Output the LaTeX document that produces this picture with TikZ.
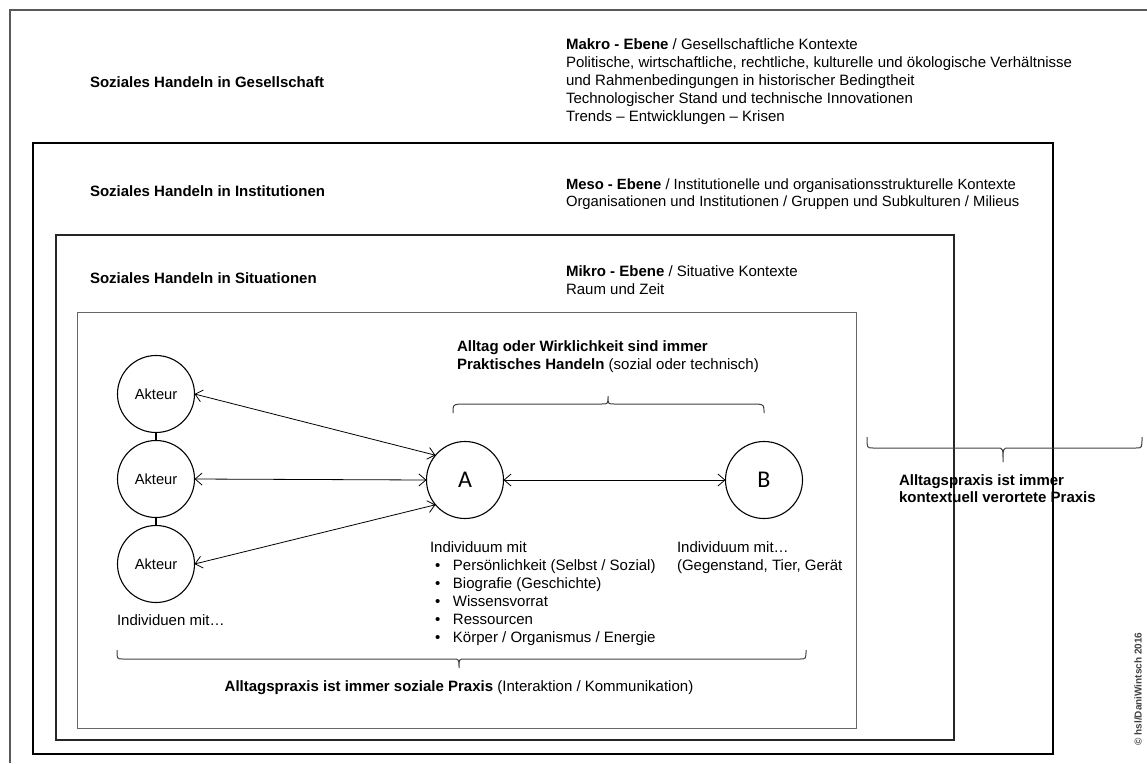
\documentclass[tikz,border=0pt]{standalone}
\usepackage{fontspec}
\setmainfont{Liberation Sans}
\newfontfamily\letterfont{Carlito}
\usetikzlibrary{arrows.meta}
\begin{document}
\begin{tikzpicture}[x=1pt,y=-1pt,
  every node/.style={inner sep=0pt, outer sep=0pt},
  lbl/.style={font=\fontsize{15}{18}\selectfont\bfseries, anchor=west},
  txt/.style={font=\fontsize{15}{18}\selectfont, align=left, anchor=north west},
  actor/.style={circle, draw, line width=1.1pt, minimum size=77pt, font=\fontsize{14.7}{18}\selectfont},
  person/.style={circle, draw, line width=1.1pt, minimum size=77pt, font=\letterfont\fontsize{24}{28}\selectfont},
  link/.style={line width=0.8pt, {Straight Barb[length=7pt,width=12pt]}-{Straight Barb[length=7pt,width=12pt]}},
  bracepath/.style={line width=1pt, black!75},
]
\useasboundingbox (0,0) rectangle (1147,763);
% frames
\draw[line width=1.3pt, black!65] (10,763) -- (10,10) -- (1147,10);
\draw[line width=1.8pt] (33,143) rectangle (1053,754);
\draw[line width=1.4pt, black!85] (56,235) rectangle (954,740);
\draw[line width=1pt, black!60] (77,312) rectangle (856,728);

% level texts
\node[lbl] (lg) at (90,82) {Soziales Handeln in Gesellschaft};
\node[txt] (makro) at (566,39) {\textbf{Makro - Ebene} / Gesellschaftliche Kontexte\\
Politische, wirtschaftliche, rechtliche, kulturelle und ökologische Verhältnisse\\
und Rahmenbedingungen in historischer Bedingtheit\\
Technologischer Stand und technische Innovationen\\
Trends – Entwicklungen – Krisen};
\node[lbl] (li) at (90,191) {Soziales Handeln in Institutionen};
\node[txt, font=\fontsize{14.8}{17}\selectfont] (meso) at (566,179) {\textbf{Meso - Ebene} / Institutionelle und organisationsstrukturelle Kontexte\\
Organisationen und Institutionen / Gruppen und Subkulturen / Milieus};
\node[lbl] (ls) at (90,278) {Soziales Handeln in Situationen};
\node[txt] (mikro) at (566,266) {\textbf{Mikro - Ebene} / Situative Kontexte\\
Raum und Zeit};

% inner content
\node[txt] (alltag) at (457,341) {\textbf{Alltag oder Wirklichkeit sind immer}\\
\textbf{Praktisches Handeln} (sozial oder technisch)};

\node[actor] (ak1) at (156,394) {Akteur};
\node[actor] (ak2) at (156,479) {Akteur};
\node[actor] (ak3) at (156,564) {Akteur};
\node[person] (A) at (465,480) {A};
\node[person] (B) at (764,480) {B};

\draw[line width=1.1pt] (ak1) -- (ak2);
\draw[line width=1.1pt] (ak2) -- (ak3);
\draw[link] (ak1.east) -- (A.140);
\draw[link] (ak2.east) -- (A.west);
\draw[link] (ak3.east) -- (A.220);
\draw[link] (A.east) -- (B.west);

\node[txt] (indA) at (430,542) {Individuum mit\\
\hspace*{5pt}\makebox[18pt][l]{•}Persönlichkeit (Selbst / Sozial)\\
\hspace*{5pt}\makebox[18pt][l]{•}Biografie (Geschichte)\\
\hspace*{5pt}\makebox[18pt][l]{•}Wissensvorrat\\
\hspace*{5pt}\makebox[18pt][l]{•}Ressourcen\\
\hspace*{5pt}\makebox[18pt][l]{•}Körper / Organismus / Energie};
\node[txt] (indB) at (677,542) {Individuum mit…\\
(Gegenstand, Tier, Gerät};
\node[lbl] (indAk) at (117,620) {\mdseries Individuen mit…};

% braces
\draw[bracepath] (453,413) .. controls (453,405) .. (459,404) -- (602,404)
  .. controls (608,404) .. (608,396) .. controls (608,404) .. (614,404)
  -- (758,404) .. controls (764,405) .. (764,413);
\draw[bracepath] (117,650) .. controls (117,659) .. (123,659) -- (453,659)
  .. controls (459,659) .. (459,668) .. controls (459,659) .. (465,659)
  -- (800,659) .. controls (806,659) .. (806,650);
\node[font=\fontsize{15}{18}\selectfont] (soz) at (459,688) {\textbf{Alltagspraxis ist immer soziale Praxis} (Interaktion / Kommunikation)};

\draw[bracepath] (867,437) .. controls (867,448) .. (873,448) -- (997,448)
  .. controls (1003,448) .. (1003,462) .. controls (1003,448) .. (1009,448)
  -- (1136,448) .. controls (1142,448) .. (1142,437);
\node[txt, font=\fontsize{15}{17}\selectfont\bfseries] (kontext) at (899,475) {Alltagspraxis ist immer\\
kontextuell verortete Praxis};

\node[rotate=90, font=\fontsize{10}{12}\selectfont\bfseries, text=black!75] (copy) at (1138,689) {© hsl/DaniWintsch 2016};
\end{tikzpicture}
\end{document}
